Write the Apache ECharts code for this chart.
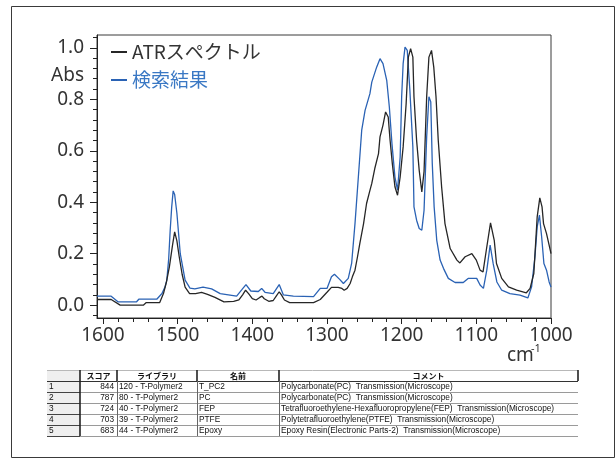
<!DOCTYPE html>
<html>
<head>
<meta charset="utf-8">
<script src="https://cdn.jsdelivr.net/npm/echarts@6/dist/echarts.min.js"></script>
<style>
  html, body { margin: 0; padding: 0; background: #fff; }
  #chart { width: 616px; height: 459px; }
</style>
</head>
<body>
<div id="chart"></div>
<script>
// Measured ATR spectrum: wavenumber (cm-1) and absorbance
const atrWavenumbers = [1608, 1589, 1577, 1546, 1542, 1524, 1519, 1515, 1511, 1507, 1504, 1501, 1498, 1494, 1490, 1484, 1476, 1468, 1460, 1450, 1438, 1425, 1418, 1413, 1409, 1405, 1400, 1395, 1390, 1387, 1384, 1378, 1372, 1368, 1364, 1361, 1357, 1350, 1330, 1318, 1309, 1300, 1294, 1285, 1280, 1277, 1273, 1269, 1266, 1262.5, 1259, 1256, 1251, 1247, 1243, 1240, 1236, 1231, 1229, 1225, 1221.5, 1218, 1215.5, 1212.5, 1209, 1205.5, 1202, 1198, 1194, 1191, 1188, 1185, 1183.5, 1180, 1176.5, 1173, 1170, 1166.5, 1163.5, 1160, 1157, 1154, 1151, 1146.5, 1142, 1135, 1126, 1122, 1115, 1106, 1100, 1095, 1091, 1086, 1081, 1076, 1073, 1066, 1057, 1046, 1033, 1028, 1023, 1018.5, 1015, 1012, 1010, 1006, 1001, 1000];
const atrAbsorbance = [0.022, 0.022, 0.0, 0.0, 0.01, 0.01, 0.045, 0.09, 0.15, 0.23, 0.285, 0.25, 0.19, 0.12, 0.07, 0.045, 0.045, 0.05, 0.042, 0.03, 0.013, 0.015, 0.02, 0.04, 0.058, 0.045, 0.025, 0.02, 0.03, 0.035, 0.025, 0.015, 0.018, 0.035, 0.052, 0.04, 0.02, 0.01, 0.01, 0.01, 0.022, 0.05, 0.069, 0.069, 0.065, 0.058, 0.065, 0.084, 0.11, 0.136, 0.19, 0.24, 0.317, 0.395, 0.44, 0.473, 0.531, 0.589, 0.654, 0.70, 0.751, 0.731, 0.641, 0.55, 0.46, 0.427, 0.498, 0.615, 0.783, 0.964, 0.997, 0.964, 0.81, 0.641, 0.524, 0.44, 0.52, 0.81, 0.964, 0.99, 0.925, 0.81, 0.641, 0.46, 0.317, 0.22, 0.175, 0.164, 0.188, 0.2, 0.175, 0.136, 0.129, 0.226, 0.32, 0.252, 0.162, 0.104, 0.071, 0.058, 0.048, 0.065, 0.123, 0.343, 0.417, 0.382, 0.317, 0.278, 0.214, 0.2];

// Best library hit: wavenumber (cm-1) and absorbance
const hitWavenumbers = [1608, 1589, 1580, 1555, 1552, 1528, 1521, 1517, 1514.5, 1512, 1510, 1508, 1506, 1504, 1501, 1496.5, 1490, 1483.5, 1477, 1466, 1454.5, 1443, 1421, 1414, 1408.5, 1402, 1392, 1387.5, 1383, 1372, 1364, 1358.5, 1345, 1318, 1309, 1300, 1294, 1290, 1283, 1278, 1271.5, 1267, 1262.5, 1258, 1253.5, 1249, 1242.5, 1240, 1233.5, 1229, 1225, 1220, 1216.5, 1213, 1209, 1205.5, 1202, 1200, 1198, 1195.5, 1192.5, 1189, 1185, 1183.5, 1180, 1176.5, 1173, 1170, 1166.5, 1163.5, 1161, 1159, 1156.5, 1153, 1148.5, 1144, 1137.5, 1128.5, 1117.5, 1111, 1099.5, 1095, 1090.5, 1086, 1081.5, 1077.5, 1072.5, 1066, 1055, 1041.5, 1031, 1026, 1021.5, 1018.5, 1015.5, 1012.5, 1009.5, 1006, 1002.5, 1000];
const hitAbsorbance = [0.035, 0.035, 0.013, 0.013, 0.023, 0.023, 0.045, 0.07, 0.097, 0.18, 0.29, 0.38, 0.444, 0.43, 0.357, 0.2, 0.097, 0.066, 0.063, 0.07, 0.063, 0.045, 0.035, 0.06, 0.08, 0.055, 0.053, 0.065, 0.05, 0.045, 0.08, 0.04, 0.035, 0.033, 0.065, 0.065, 0.11, 0.12, 0.1, 0.084, 0.104, 0.162, 0.317, 0.498, 0.68, 0.757, 0.822, 0.867, 0.925, 0.958, 0.939, 0.874, 0.77, 0.628, 0.498, 0.447, 0.576, 0.81, 0.939, 1.003, 0.99, 0.835, 0.615, 0.382, 0.33, 0.298, 0.291, 0.369, 0.654, 0.81, 0.79, 0.55, 0.382, 0.252, 0.175, 0.143, 0.104, 0.088, 0.088, 0.104, 0.104, 0.078, 0.065, 0.136, 0.233, 0.162, 0.09, 0.058, 0.045, 0.039, 0.028, 0.071, 0.188, 0.304, 0.35, 0.265, 0.162, 0.136, 0.09, 0.07];

// Axis ticks
const xTickValues = [1000, 1100, 1200, 1300, 1400, 1500, 1600];
const xMinorValues = [1020, 1040, 1060, 1080, 1120, 1140, 1160, 1180, 1220, 1240, 1260, 1280, 1320, 1340, 1360, 1380, 1420, 1440, 1460, 1480, 1520, 1540, 1560, 1580];
const yTickValues = [0, 0.2, 0.4, 0.6, 0.8, 1.0];
const yMinorValues = [-0.04, 0.04, 0.08, 0.12, 0.16, 0.24, 0.28, 0.32, 0.36, 0.44, 0.48, 0.52, 0.56, 0.64, 0.68, 0.72, 0.76, 0.84, 0.88, 0.92, 0.96, 1.04];

// Search result table
const tableHeaders = ['', 'スコア', 'ライブラリ', '名前', 'コメント'];
const hitRanks = ['1', '2', '3', '4', '5'];
const hitScores = ['844', '787', '724', '703', '683'];
const hitLibraries = ['120 - T-Polymer2', '80 - T-Polymer2', '40 - T-Polymer2', '39 - T-Polymer2', '44 - T-Polymer2'];
const hitNames = ['T_PC2', 'PC', 'FEP', 'PTFE', 'Epoxy'];
const hitComments = [
  'Polycarbonate(PC)  Transmission(Microscope)',
  'Polycarbonate(PC)  Transmission(Microscope)',
  'Tetrafluoroethylene-Hexafluoropropylene(FEP)  Transmission(Microscope)',
  'Polytetrafluoroethylene(PTFE)  Transmission(Microscope)',
  'Epoxy Resin(Electronic Parts-2)  Transmission(Microscope)'
];

const pairs = (xs, ys) => xs.map((x, i) => [x, ys[i]]);
const numFont = "'Noto Sans', 'Noto Sans CJK JP', sans-serif";
const jpFont = "'Noto Sans CJK JP', 'Noto Sans', sans-serif";
const tableFont = "'Liberation Sans', 'Noto Sans CJK JP', sans-serif";
const AXIS_COLOR = '#222';
const TEXT_COLOR = '#333';

// Table layout
const colEdges = [47, 80, 117, 197, 279, 578];
const tableTop = 370;
const rowH = 11;

function buildTable() {
  const els = [];
  const right = colEdges[colEdges.length - 1];
  const nRows = hitRanks.length;
  const bottom = tableTop + rowH * (nRows + 1);
  // row-number column background
  els.push({ type: 'rect', shape: { x: colEdges[0], y: tableTop, width: colEdges[1] - colEdges[0], height: rowH * (nRows + 1) },
    style: { fill: '#efefef', stroke: null } });
  // header top line
  els.push({ type: 'line', shape: { x1: colEdges[0], y1: tableTop + 0.5, x2: right, y2: tableTop + 0.5 }, style: { stroke: '#b8b8b8', lineWidth: 1 } });
  // header bottom line
  els.push({ type: 'line', shape: { x1: colEdges[0], y1: tableTop + rowH + 0.5, x2: right, y2: tableTop + rowH + 0.5 }, style: { stroke: '#333', lineWidth: 1 } });
  // header column separators (thick)
  for (let c = 1; c < colEdges.length; c++) {
    els.push({ type: 'line', shape: { x1: colEdges[c], y1: tableTop, x2: colEdges[c], y2: tableTop + rowH }, style: { stroke: '#222', lineWidth: 1.6 } });
  }
  // header text
  for (let c = 1; c < tableHeaders.length; c++) {
    els.push({ type: 'text', style: { text: tableHeaders[c], x: (colEdges[c] + colEdges[c + 1]) / 2, y: tableTop + rowH / 2 + 0.5,
      align: 'center', verticalAlign: 'middle', font: 'bold 8px ' + jpFont, fill: '#111' } });
  }
  // rows
  for (let r = 0; r < nRows; r++) {
    const y0 = tableTop + rowH * (r + 1);
    const yb = y0 + rowH;
    els.push({ type: 'line', shape: { x1: colEdges[1], y1: yb + 0.5, x2: right, y2: yb + 0.5 }, style: { stroke: '#9a9a9a', lineWidth: 1 } });
    els.push({ type: 'line', shape: { x1: colEdges[0], y1: yb + 0.5, x2: colEdges[1], y2: yb + 0.5 }, style: { stroke: '#444', lineWidth: 1 } });
    const cy = y0 + rowH / 2 + 0.5;
    const cells = [
      { t: hitRanks[r], x: colEdges[0] + 2, a: 'left' },
      { t: hitScores[r], x: colEdges[2] - 3, a: 'right' },
      { t: hitLibraries[r], x: colEdges[2] + 2, a: 'left' },
      { t: hitNames[r], x: colEdges[3] + 2, a: 'left' },
      { t: hitComments[r], x: colEdges[4] + 2, a: 'left' }
    ];
    cells.forEach(cell => els.push({ type: 'text', style: { text: cell.t, x: cell.x, y: cy, align: cell.a, verticalAlign: 'middle',
      font: '8.3px ' + tableFont, fill: '#111' } }));
  }
  // body column separators
  els.push({ type: 'line', shape: { x1: colEdges[1], y1: tableTop + rowH, x2: colEdges[1], y2: bottom }, style: { stroke: '#222', lineWidth: 1.6 } });
  for (let c = 2; c < colEdges.length - 1; c++) {
    els.push({ type: 'line', shape: { x1: colEdges[c] + 0.5, y1: tableTop + rowH, x2: colEdges[c] + 0.5, y2: bottom }, style: { stroke: '#666', lineWidth: 1 } });
  }
  return els;
}

const chart = echarts.init(document.getElementById('chart'), null, { renderer: 'canvas' });

const option = {
  animation: false,
  backgroundColor: '#fff',
  grid: { left: 97, right: 65, top: 35, bottom: 141, show: true, borderColor: '#3a3a3a', borderWidth: 1, backgroundColor: 'transparent' },
  legend: {
    orient: 'vertical', left: 106, top: 37, padding: 5,
    itemWidth: 16, itemHeight: 2, itemGap: 8, icon: 'rect', selectedMode: false,
    textStyle: { fontSize: 19, lineHeight: 20, fontFamily: jpFont },
    data: [
      { name: 'ATRスペクトル', textStyle: { color: '#333' } },
      { name: '検索結果', textStyle: { color: '#3a78c4' } }
    ]
  },
  xAxis: [
    {
      type: 'value', inverse: true, min: 1000, max: 1608, position: 'bottom',
      axisLine: { show: true, onZero: false, lineStyle: { color: AXIS_COLOR, width: 1 } },
      axisTick: { show: true, inside: false, length: 6, customValues: xTickValues, lineStyle: { color: AXIS_COLOR, width: 1 } },
      axisLabel: { customValues: xTickValues, margin: 8, fontSize: 19, color: TEXT_COLOR, fontFamily: numFont, formatter: v => String(v) },
      splitLine: { show: false }
    },
    {
      type: 'value', inverse: true, min: 1000, max: 1608, position: 'bottom',
      axisLine: { show: false, onZero: false },
      axisTick: { show: true, inside: false, length: 4, customValues: xMinorValues, lineStyle: { color: AXIS_COLOR, width: 1 } },
      axisLabel: { show: false },
      splitLine: { show: false }
    }
  ],
  yAxis: [
    {
      type: 'value', min: -0.05, max: 1.05, position: 'left',
      axisLine: { show: true, onZero: false, lineStyle: { color: AXIS_COLOR, width: 1 } },
      axisTick: { show: true, inside: false, length: 7, customValues: yTickValues, lineStyle: { color: AXIS_COLOR, width: 1 } },
      axisLabel: { customValues: yTickValues, margin: 13, fontSize: 19, color: TEXT_COLOR, fontFamily: numFont, formatter: v => v.toFixed(1) },
      splitLine: { show: false }
    },
    {
      type: 'value', min: -0.05, max: 1.05, position: 'left',
      axisLine: { show: false, onZero: false },
      axisTick: { show: true, inside: false, length: 4, customValues: yMinorValues, lineStyle: { color: AXIS_COLOR, width: 1 } },
      axisLabel: { show: false },
      splitLine: { show: false }
    }
  ],
  series: [
    {
      name: '検索結果', type: 'line', xAxisIndex: 0, yAxisIndex: 0,
      data: pairs(hitWavenumbers, hitAbsorbance),
      symbol: 'none', showSymbol: false, clip: true,
      lineStyle: { color: '#2a62b4', width: 1.3 }, itemStyle: { color: '#2a62b4' }
    },
    {
      name: 'ATRスペクトル', type: 'line', xAxisIndex: 0, yAxisIndex: 0,
      data: pairs(atrWavenumbers, atrAbsorbance),
      symbol: 'none', showSymbol: false, clip: true,
      lineStyle: { color: '#262626', width: 1.3 }, itemStyle: { color: '#262626' }
    }
  ],
  graphic: [
    { type: 'rect', shape: { x: 11.5, y: 6.5, width: 603, height: 451 }, style: { fill: null, stroke: '#3a3a3a', lineWidth: 1 }, z: 0 },
    { type: 'text', style: { text: 'Abs', x: 84, y: 76, align: 'right', verticalAlign: 'middle', font: '19px ' + numFont, fill: TEXT_COLOR } },
    { type: 'text', style: { text: 'cm', x: 507, y: 356, align: 'left', verticalAlign: 'middle', font: '19px ' + numFont, fill: TEXT_COLOR } },
    { type: 'text', style: { text: '-1', x: 531, y: 349, align: 'left', verticalAlign: 'middle', font: '11px ' + numFont, fill: TEXT_COLOR } },
    ...buildTable()
  ]
};

chart.setOption(option);
</script>
</body>
</html>
